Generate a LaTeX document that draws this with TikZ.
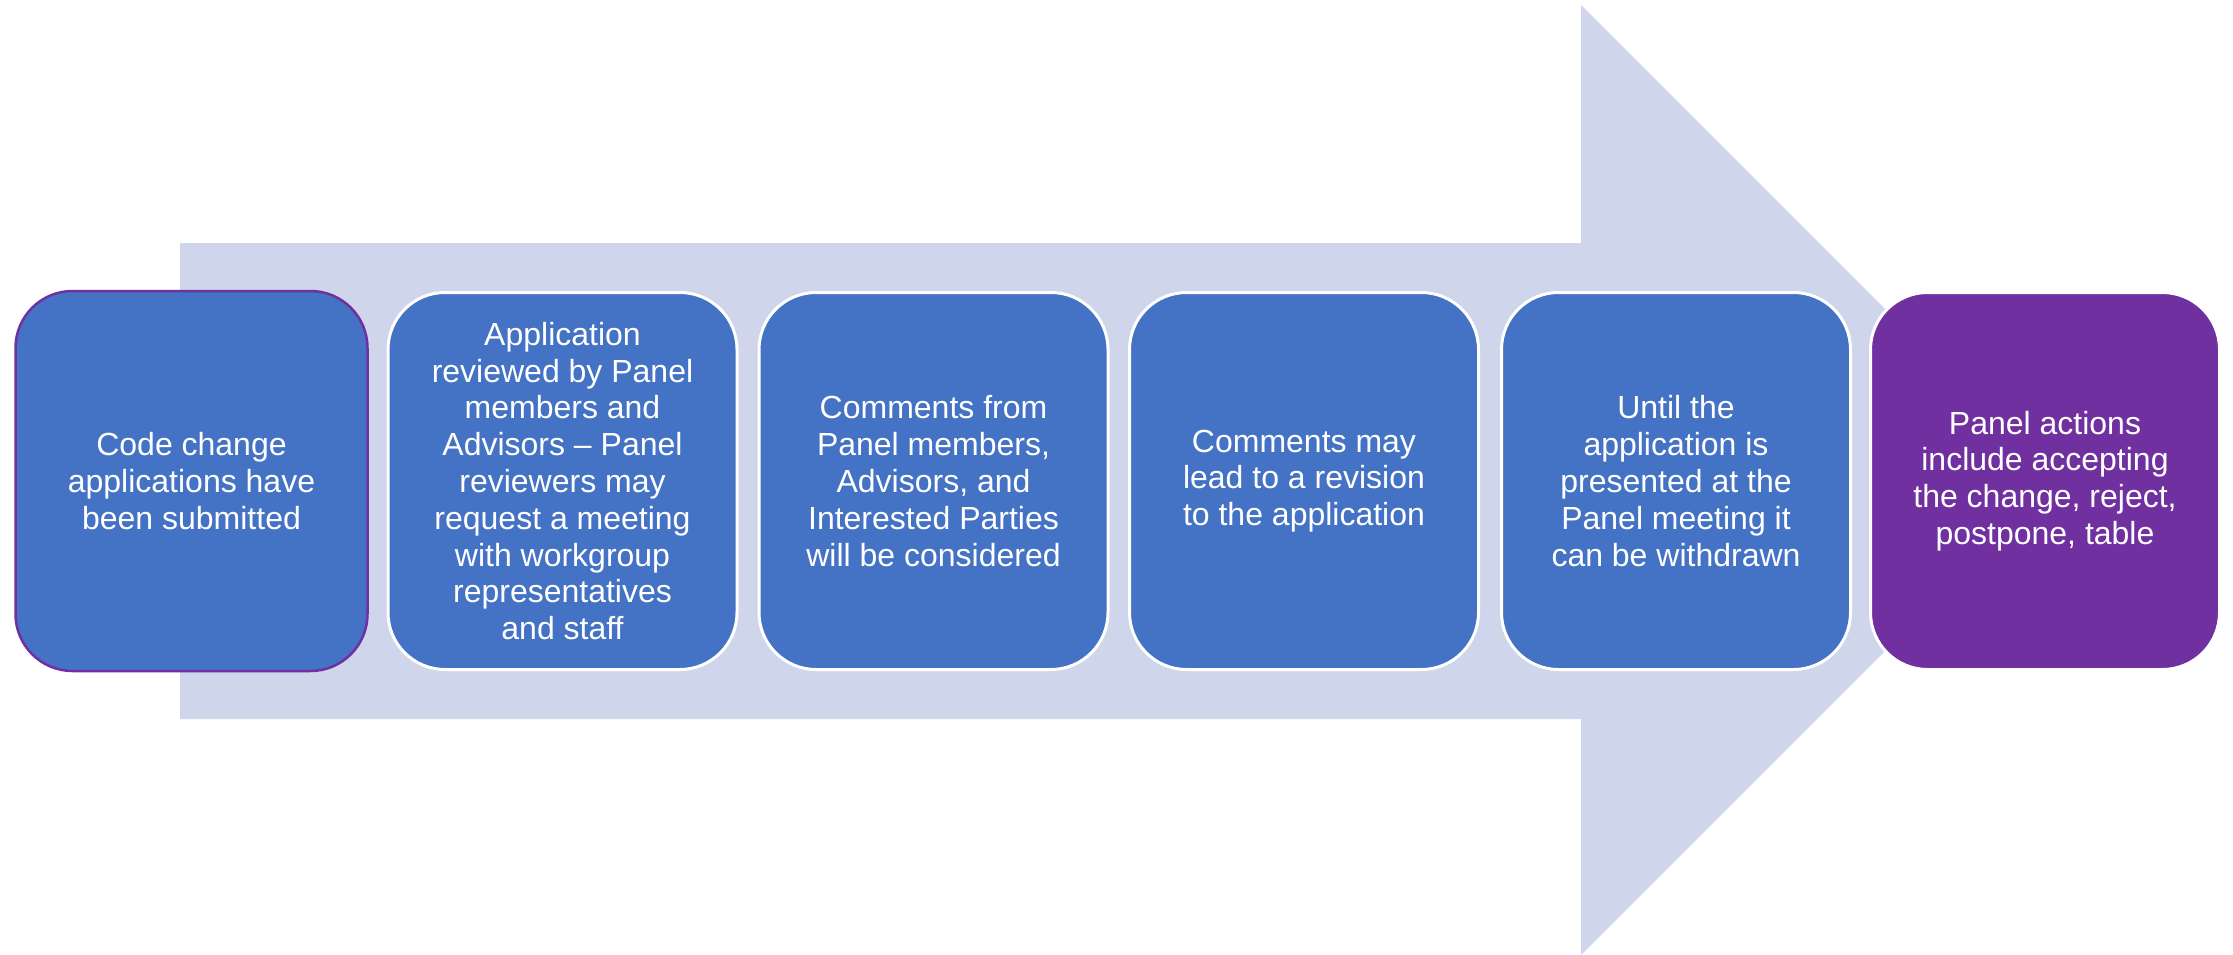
\documentclass[tikz,border=0pt]{standalone}
\usepackage{fontspec}
\setmainfont{Liberation Sans}
\definecolor{arrowfill}{HTML}{CFD5EA}
\definecolor{stepblue}{HTML}{4472C4}
\definecolor{steppurple}{HTML}{7030A0}
\begin{document}
\begin{tikzpicture}[x=1pt,y=-1pt,
  stepbox/.style={rectangle, rounded corners=57pt, fill=stepblue, draw=white,
    line width=3pt, minimum width=349pt, minimum height=377pt, inner sep=0pt,
    text=white, align=center, font=\fontsize{32}{36.8}\selectfont},
  firstbox/.style={stepbox, draw=steppurple, line width=2.5pt,
    minimum width=352pt, minimum height=380pt},
  lastbox/.style={stepbox, fill=steppurple}]
\useasboundingbox (0,0) rectangle (2233,955);
% background block arrow
\fill[arrowfill] (180,243) -- (1581,243) -- (1581,5) -- (2056,480)
  -- (1581,955) -- (1581,719) -- (180,719) -- cycle;
% process steps
\node[firstbox] (s1) at (191.5,481) {Code change\\applications have\\been submitted};
\node[stepbox] (s2) at (562.5,481) {Application\\reviewed by Panel\\members and\\Advisors – Panel\\reviewers may\\request a meeting\\with workgroup\\representatives\\and staff};
\node[stepbox] (s3) at (933.5,481) {Comments from\\Panel members,\\Advisors, and\\Interested Parties\\will be considered};
\node[stepbox] (s4) at (1304,481) {Comments may\\lead to a revision\\to the application};
\node[stepbox] (s5) at (1676,481) {Until the\\application is\\presented at the\\Panel meeting it\\can be withdrawn};
\node[lastbox] (s6) at (2045,481) {Panel actions\\include accepting\\the change, reject,\\postpone, table};
\end{tikzpicture}
\end{document}
